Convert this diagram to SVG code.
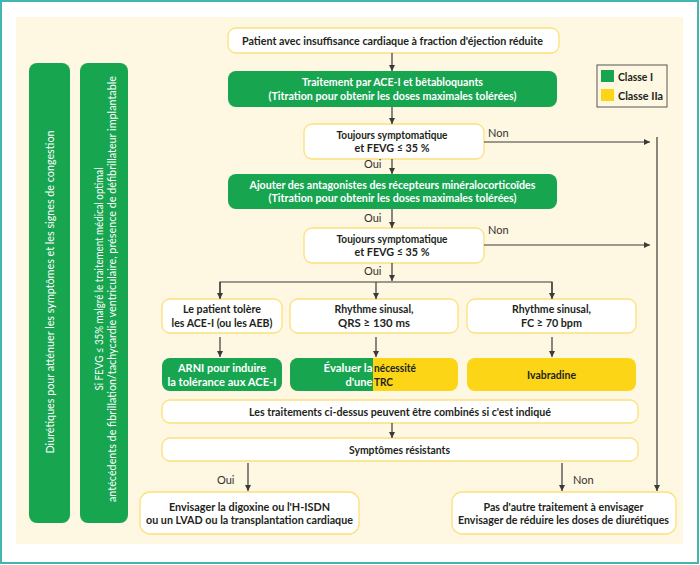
<svg xmlns="http://www.w3.org/2000/svg" width="700" height="565" viewBox="0 0 700 565">
<defs>
<style>
.g{fill:#17a550;}
.y{fill:#fcd516;}
.w{fill:#ffffff;stroke:#fde07c;stroke-width:1.3;}
.t{font-family:Lato,"Open Sans","Liberation Sans",sans-serif;font-size:11.5px;font-weight:bold;fill:#231f20;text-anchor:middle;}
.tw{font-family:Lato,"Open Sans","Liberation Sans",sans-serif;font-size:11.5px;font-weight:bold;fill:#ffffff;text-anchor:middle;}
.v{font-family:Lato,"Open Sans","Liberation Sans",sans-serif;font-size:12px;fill:#ffffff;text-anchor:middle;}
.l{font-family:Lato,"Open Sans","Liberation Sans",sans-serif;font-size:11px;fill:#333333;}
.c{stroke:#3a3a3a;stroke-width:1.2;fill:none;}
</style>
<marker id="ah" viewBox="0 0 10 10" refX="10" refY="5" markerWidth="6" markerHeight="6" markerUnits="userSpaceOnUse" orient="auto">
<path d="M0,0 L10,5 L0,10 z" fill="#3a3a3a"/>
</marker>
<clipPath id="splitclip"><rect x="290" y="358" width="168" height="33" rx="8"/></clipPath>
</defs>
<rect x="1" y="1" width="697" height="562" fill="#ffffff" stroke="#45b5b2" stroke-width="2"/>
<rect x="16" y="17" width="667" height="527" fill="#fef7e1"/>

<g id="bar-diuretiques">
<rect class="g" x="29" y="63" width="41" height="460" rx="8"/>
<text class="v" transform="translate(54,292) rotate(-90)" textLength="323" lengthAdjust="spacingAndGlyphs">Diurétiques pour atténuer les symptômes et les signes de congestion</text>
</g>
<g id="bar-fevg">
<rect class="g" x="80" y="63" width="48" height="460" rx="8"/>
<text class="v" transform="translate(103,279) rotate(-90)" textLength="223" lengthAdjust="spacingAndGlyphs">Si FEVG ≤ 35% malgré le traitement médical optimal</text>
<text class="v" transform="translate(116,289) rotate(-90)" textLength="426" lengthAdjust="spacingAndGlyphs">antécédents de fibrillation/tachycardie ventriculaire, présence de défibrillateur implantable</text>
</g>

<g id="legend">
<rect x="597" y="65" width="70" height="42" fill="#fef7e1" stroke="#555555" stroke-width="1"/>
<rect class="g" x="601" y="70" width="13" height="12"/>
<rect class="y" x="601" y="89" width="13" height="12"/>
<text class="t" x="618" y="81" style="text-anchor:start" textLength="35" lengthAdjust="spacingAndGlyphs">Classe I</text>
<text class="t" x="618" y="100" style="text-anchor:start" textLength="45" lengthAdjust="spacingAndGlyphs">Classe IIa</text>
</g>

<g id="n-patient">
<rect class="w" x="228" y="28" width="331" height="25" rx="8"/>
<text class="t" x="392.5" y="44.5" textLength="301" lengthAdjust="spacingAndGlyphs">Patient avec insuffisance cardiaque à fraction d'éjection réduite</text>
</g>
<g id="n-ace">
<rect class="g" x="228" y="71" width="329" height="36" rx="8"/>
<text class="tw" x="392.5" y="86" textLength="181" lengthAdjust="spacingAndGlyphs">Traitement par ACE-I et bêtabloquants</text>
<text class="tw" x="392.5" y="99.5" textLength="248" lengthAdjust="spacingAndGlyphs">(Titration pour obtenir les doses maximales tolérées)</text>
</g>
<g id="n-dec1">
<rect class="w" x="304" y="124" width="180" height="35" rx="8"/>
<text class="t" x="392" y="139" textLength="111" lengthAdjust="spacingAndGlyphs">Toujours symptomatique</text>
<text class="t" x="392" y="152" textLength="75" lengthAdjust="spacingAndGlyphs">et FEVG ≤ 35 %</text>
</g>
<g id="n-arm">
<rect class="g" x="228" y="174" width="329" height="35" rx="8"/>
<text class="tw" x="392.5" y="188.5" textLength="286" lengthAdjust="spacingAndGlyphs">Ajouter des antagonistes des récepteurs minéralocorticoïdes</text>
<text class="tw" x="392.5" y="202" textLength="248" lengthAdjust="spacingAndGlyphs">(Titration pour obtenir les doses maximales tolérées)</text>
</g>
<g id="n-dec2">
<rect class="w" x="304" y="228" width="180" height="35" rx="8"/>
<text class="t" x="392" y="243" textLength="111" lengthAdjust="spacingAndGlyphs">Toujours symptomatique</text>
<text class="t" x="392" y="256" textLength="75" lengthAdjust="spacingAndGlyphs">et FEVG ≤ 35 %</text>
</g>
<g id="n-tolere">
<rect class="w" x="162" y="299" width="120" height="34" rx="8"/>
<text class="t" x="222" y="313" textLength="78" lengthAdjust="spacingAndGlyphs">Le patient tolère</text>
<text class="t" x="222" y="326.5" textLength="101" lengthAdjust="spacingAndGlyphs">les ACE-I (ou les AEB)</text>
</g>
<g id="n-qrs">
<rect class="w" x="290" y="299" width="168" height="34" rx="8"/>
<text class="t" x="374" y="313" textLength="79" lengthAdjust="spacingAndGlyphs">Rhythme sinusal,</text>
<text class="t" x="374" y="326.5" textLength="72" lengthAdjust="spacingAndGlyphs">QRS ≥ 130 ms</text>
</g>
<g id="n-fc">
<rect class="w" x="467" y="299" width="169" height="34" rx="8"/>
<text class="t" x="551.5" y="313" textLength="79" lengthAdjust="spacingAndGlyphs">Rhythme sinusal,</text>
<text class="t" x="551.5" y="326.5" textLength="61" lengthAdjust="spacingAndGlyphs">FC ≥ 70 bpm</text>
</g>
<g id="n-arni">
<rect class="g" x="162" y="358" width="120" height="33" rx="8"/>
<text class="tw" x="222" y="372" textLength="88" lengthAdjust="spacingAndGlyphs">ARNI pour induire</text>
<text class="tw" x="222" y="385.5" textLength="109" lengthAdjust="spacingAndGlyphs">la tolérance aux ACE-I</text>
</g>
<g id="n-trc">
<g clip-path="url(#splitclip)">
<rect class="y" x="290" y="358" width="168" height="33"/>
<rect class="g" x="290" y="358" width="83" height="33"/>
</g>
<text class="tw" x="372.5" y="372" style="text-anchor:end" textLength="49" lengthAdjust="spacingAndGlyphs">Évaluer la</text>
<text class="t" x="374" y="372" style="text-anchor:start" textLength="42" lengthAdjust="spacingAndGlyphs">nécessité</text>
<text class="tw" x="372.5" y="385.5" style="text-anchor:end" textLength="27" lengthAdjust="spacingAndGlyphs">d'une</text>
<text class="t" x="374" y="385.5" style="text-anchor:start" textLength="19" lengthAdjust="spacingAndGlyphs">TRC</text>
</g>
<g id="n-ivabradine">
<rect class="y" x="467" y="358" width="169" height="33" rx="8"/>
<text class="t" x="551.5" y="379" textLength="49" lengthAdjust="spacingAndGlyphs">Ivabradine</text>
</g>
<g id="n-combines">
<rect class="w" x="162" y="400" width="476" height="23" rx="8"/>
<text class="t" x="400" y="415.5" textLength="302" lengthAdjust="spacingAndGlyphs">Les traitements ci-dessus peuvent être combinés si c'est indiqué</text>
</g>
<g id="n-resistants">
<rect class="w" x="162" y="438" width="476" height="23" rx="8"/>
<text class="t" x="399.5" y="453.5" textLength="101" lengthAdjust="spacingAndGlyphs">Symptômes résistants</text>
</g>
<g id="n-digoxine">
<rect class="w" x="140" y="492" width="219" height="42" rx="10"/>
<text class="t" x="249.5" y="510.5" textLength="161" lengthAdjust="spacingAndGlyphs">Envisager la digoxine ou l'H-ISDN</text>
<text class="t" x="249.5" y="524" textLength="207" lengthAdjust="spacingAndGlyphs">ou un LVAD ou la transplantation cardiaque</text>
</g>
<g id="n-pasautre">
<rect class="w" x="452" y="492" width="224" height="42" rx="10"/>
<text class="t" x="563.5" y="510.5" textLength="160" lengthAdjust="spacingAndGlyphs">Pas d'autre traitement à envisager</text>
<text class="t" x="563.5" y="524" textLength="211" lengthAdjust="spacingAndGlyphs">Envisager de réduire les doses de diurétiques</text>
</g>

<g id="connectors">
<line class="c" x1="392" y1="53" x2="392" y2="71" marker-end="url(#ah)"/>
<line class="c" x1="392" y1="107" x2="392" y2="124" marker-end="url(#ah)"/>
<line class="c" x1="392" y1="159" x2="392" y2="174" marker-end="url(#ah)"/>
<line class="c" x1="392" y1="209" x2="392" y2="228" marker-end="url(#ah)"/>
<line class="c" x1="392" y1="263" x2="392" y2="281" marker-end="url(#ah)"/>
<polyline class="c" points="220,298 220,282 552,282 552,298"/>
<line class="c" x1="220" y1="282" x2="220" y2="299" marker-end="url(#ah)"/>
<line class="c" x1="376" y1="282" x2="376" y2="299" marker-end="url(#ah)"/>
<line class="c" x1="552" y1="282" x2="552" y2="299" marker-end="url(#ah)"/>
<line class="c" x1="220" y1="337" x2="220" y2="357" marker-end="url(#ah)"/>
<line class="c" x1="376" y1="337" x2="376" y2="357" marker-end="url(#ah)"/>
<line class="c" x1="552" y1="337" x2="552" y2="357" marker-end="url(#ah)"/>
<line class="c" x1="392" y1="423" x2="392" y2="438" marker-end="url(#ah)"/>
<line class="c" x1="248" y1="463" x2="248" y2="491" marker-end="url(#ah)"/>
<line class="c" x1="562" y1="463" x2="562" y2="491" marker-end="url(#ah)"/>
<line class="c" x1="484" y1="142" x2="650" y2="142" marker-end="url(#ah)"/>
<line class="c" x1="484" y1="245" x2="650" y2="245" marker-end="url(#ah)"/>
<line class="c" x1="657" y1="137" x2="657" y2="491" marker-end="url(#ah)"/>
<text class="l" x="488" y="137">Non</text>
<text class="l" x="488" y="234">Non</text>
<text class="l" x="364" y="168">Oui</text>
<text class="l" x="364" y="222">Oui</text>
<text class="l" x="364" y="275">Oui</text>
<text class="l" x="217" y="484">Oui</text>
<text class="l" x="573" y="484">Non</text>
</g>
</svg>
